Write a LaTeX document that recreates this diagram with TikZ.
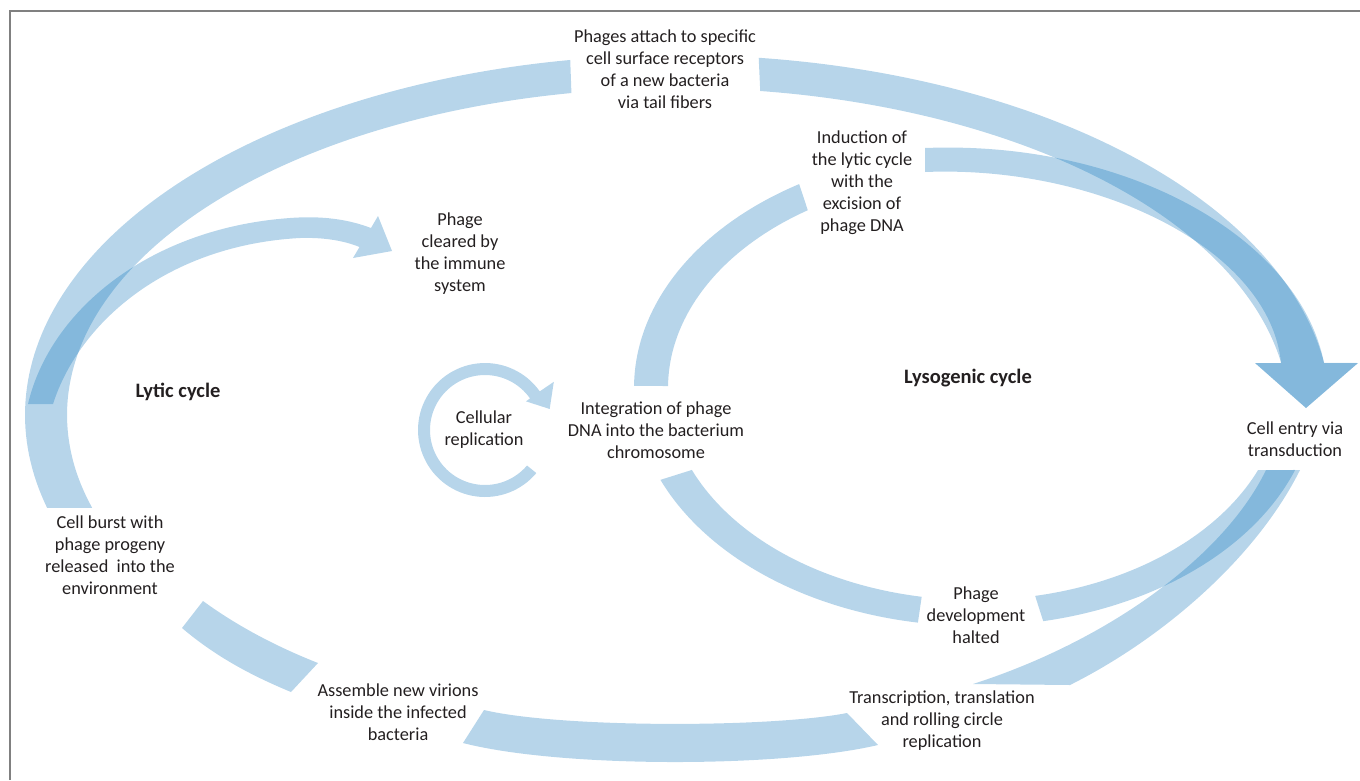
\documentclass[tikz,border=0pt]{standalone}
\usepackage{fontspec}
\setmainfont{Carlito}
\definecolor{band}{RGB}{15,117,187}
\definecolor{txt}{RGB}{35,31,32}
\definecolor{framecol}{RGB}{128,128,128}
\tikzset{
  bandfill/.style={fill=band, fill opacity=0.3, draw=none},
  lbl/.style={align=center, text=txt, font=\fontsize{18.3}{22}\selectfont, inner sep=0pt},
  ttl/.style={text=txt, font=\fontsize{20.5}{24}\selectfont\bfseries, inner sep=0pt}
}
\begin{document}
\begin{tikzpicture}[x=1pt,y=-1pt]
\useasboundingbox (0,0) rectangle (1360,780);
% frame
\draw[framecol, line width=1.5pt] (10,780) -- (10,11) -- (1360,11);

% A left (lytic outer arc, left part)
\fill[bandfill] plot[domain=0:1,samples=90] ({678+653*cos(260.5-95.5*\x)},{415+360*sin(260.5-95.5*\x)})
  -- plot[domain=0:1,samples=90] ({678+611*cos(163.5+96.5*\x)},{415+327*sin(163.5+96.5*\x)}) -- cycle;
% A right with arrowhead
\fill[bandfill] plot[domain=0:1,samples=90] ({678+653*cos(277.1+74.6*\x)},{415+360*sin(277.1+74.6*\x)})
  -- (1358,363) -- (1306,408) -- (1255,363)
  -- plot[domain=0:1,samples=90] ({678+611*cos(350.85-73.15*\x)},{415+327*sin(350.85-73.15*\x)}) -- cycle;
% C induction arrow into same head
\fill[bandfill] (925,148) .. controls (1130,140) and (1300,240) .. (1324,363)
  -- (1358,363) -- (1306,408) -- (1255,363) -- (1281,363)
  .. controls (1270,250) and (1100,165) .. (925,172) -- cycle;
% B phage cleared arrow
\fill[bandfill] (28,404) .. controls (50,310) and (150,228) .. (290,218)
  .. controls (330,215) and (355,222) .. (371,228) -- (378,216) -- (392,251) -- (353,258) -- (359.5,247)
  .. controls (350,243) and (330,237) .. (300,238) .. controls (170,245) and (80,320) .. (53,404) -- cycle;
% H
\fill[bandfill] (203,601) .. controls (240,628) and (280,648) .. (318,663) -- (291,692)
  .. controls (250,675) and (215,656) .. (182,628) -- cycle;
% I
\fill[bandfill] (484,710) .. controls (560,728) and (770,728) .. (847,713) -- (878,745)
  .. controls (780,768) and (560,768) .. (463,743) -- cycle;
% D lysogenic left-top
\fill[bandfill] plot[domain=0:1,samples=60] ({975+341*cos(180.5+58.5*\x)},{388+238*sin(180.5+58.5*\x)})
  -- plot[domain=0:1,samples=60] ({975+307*cos(237-56.5*\x)},{388+212*sin(237-56.5*\x)}) -- cycle;
% F lysogenic bottom-left
\fill[bandfill] plot[domain=0:1,samples=60] ({975+341*cos(157.3-57.7*\x)},{388+238*sin(157.3-57.7*\x)})
  -- plot[domain=0:1,samples=60] ({975+307*cos(100+57.3*\x)},{388+212*sin(100+57.3*\x)}) -- cycle;
% E lysogenic right-bottom
\fill[bandfill] plot[domain=0:1,samples=60] ({975+341*cos(20.15+58.35*\x)},{388+238*sin(20.15+58.35*\x)})
  -- plot[domain=0:1,samples=60] ({975+307*cos(78.7-55.93*\x)},{388+212*sin(78.7-55.93*\x)}) -- cycle;
% G transcription band
\fill[bandfill] (1266,470) -- (1300,470) .. controls (1255,560) and (1160,640) .. (1070,685)
  -- (973,684) .. controls (1110,640) and (1225,555) .. (1266,470) -- cycle;
% cellular replication ring
\fill[bandfill] plot[domain=0:1,samples=80] ({485+67*cos(40+285*\x)},{430+67*sin(40+285*\x)})
  -- ({485+84*cos(325)},{430+84*sin(325)}) -- ({485+68*cos(342)},{430+68*sin(342)})
  -- ({485+50*cos(325)},{430+50*sin(325)})
  -- plot[domain=0:1,samples=80] ({485+55*cos(325-285*\x)},{430+55*sin(325-285*\x)}) -- cycle;

% labels
\node[lbl] (attach) at (665,69) {Phages attach to specific\\cell surface receptors\\of a new bacteria\\via tail fibers};
\node[lbl] (induct) at (862,183) {Induction of\\the lytic cycle\\with the\\excision of\\phage DNA};
\node[lbl] (clear) at (460,254) {Phage\\cleared by\\the immune\\system};
\node[ttl] (lytic) at (178,392) {Lytic cycle};
\node[ttl] (lyso) at (968,378) {Lysogenic cycle};
\node[lbl] (cellrep) at (484,430) {Cellular\\replication};
\node[lbl] (integ) at (656,430) {Integration of phage\\DNA into the bacterium\\chromosome};
\node[lbl] (entry) at (1295,439) {Cell entry via\\transduction};
\node[lbl] (burst) at (110,555) {Cell burst with\\phage progeny\\released\ \ into the\\environment};
\node[lbl] (halt) at (976,615) {Phage\\development\\halted};
\node[lbl] (assemble) at (398,712) {Assemble new virions\\inside the infected\\bacteria};
\node[lbl] (transc) at (942,721) {Transcription, translation\\and rolling circle\\replication};
\end{tikzpicture}
\end{document}
